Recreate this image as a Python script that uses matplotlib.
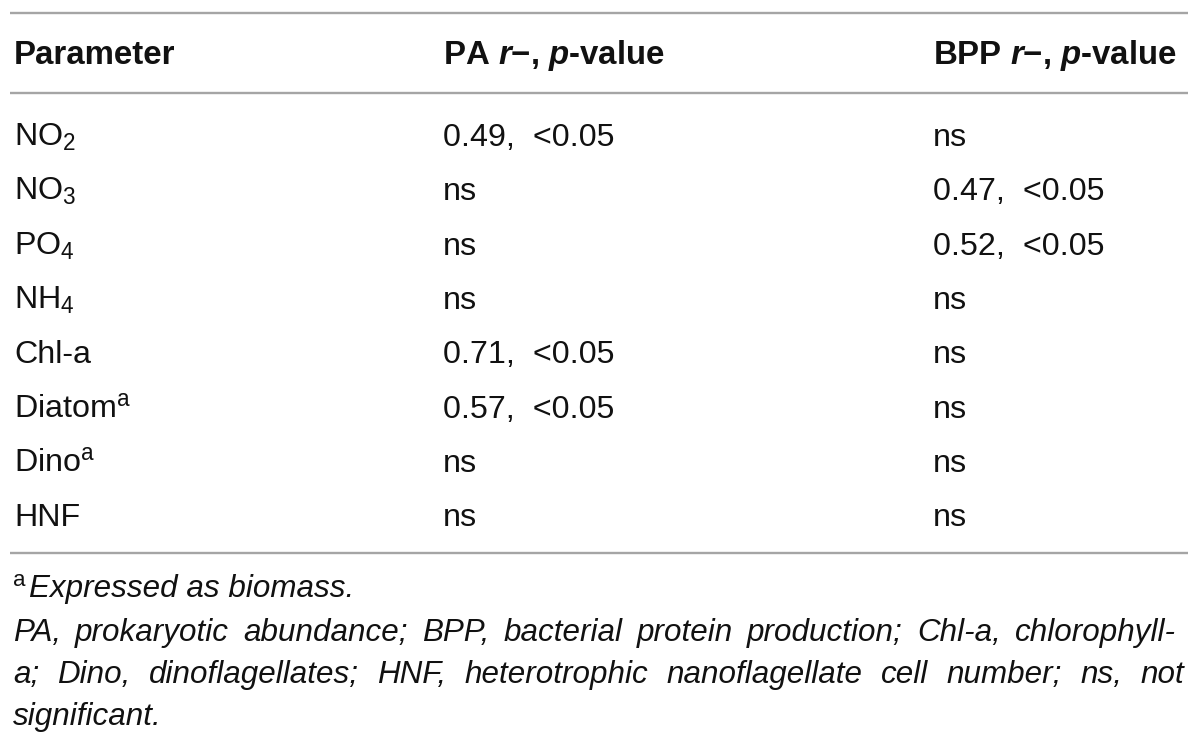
import matplotlib
matplotlib.use("Agg")
import matplotlib.pyplot as plt

plt.rcParams['font.family'] = ['Liberation Sans', 'DejaVu Sans']
plt.rcParams['mathtext.fontset'] = 'custom'
plt.rcParams['mathtext.rm'] = 'Liberation Sans'
plt.rcParams['mathtext.it'] = 'Liberation Sans:italic'
plt.rcParams['mathtext.bf'] = 'Liberation Sans:bold'
plt.rcParams['mathtext.bfit'] = 'Liberation Sans:italic:bold'

# Table content
headers = ["Parameter", "PA $\\mathbfit{r}$\u2212, $\\mathbfit{p}$-value",
           "BPP $\\mathbfit{r}$\u2212, $\\mathbfit{p}$-value"]
parameters = ["NO$_2$", "NO$_3$", "PO$_4$", "NH$_4$", "Chl-a",
              "Diatom$^{\\mathrm{a}}$", "Dino$^{\\mathrm{a}}$", "HNF"]
pa_values = ["0.49,  <0.05", "ns", "ns", "ns", "0.71,  <0.05",
             "0.57,  <0.05", "ns", "ns"]
bpp_values = ["ns", "0.47,  <0.05", "0.52,  <0.05", "ns", "ns",
              "ns", "ns", "ns"]
footnote_a = "Expressed as biomass."
footnote_lines = [
    "PA, prokaryotic abundance; BPP, bacterial protein production; Chl-a, chlorophyll-",
    "a; Dino, dinoflagellates; HNF, heterotrophic nanoflagellate cell number; ns, not",
    "significant.",
]

W, H = 1200, 746
fig = plt.figure(figsize=(W / 100, H / 100), dpi=100)
ax = fig.add_axes([0, 0, 1, 1])
ax.set_xlim(0, W)
ax.set_ylim(H, 0)
ax.axis('off')

txt = '#111111'
line_c = '#a5a5a5'
fs = 23.2
hfs = 23.8
col_x = [14, 443, 933]

for y in [12.7, 93, 553]:
    ax.plot([10, 1188], [y, y], color=line_c, lw=1.7, solid_capstyle='butt')

for x, h in zip(col_x, headers):
    ax.text(x, 64, h, fontsize=hfs, fontweight='bold', color=txt, va='baseline')

# rows
row_y0, row_dy = 146, 54.3
for i, (p, a, b) in enumerate(zip(parameters, pa_values, bpp_values)):
    y = row_y0 + i * row_dy
    ax.text(col_x[0], y, p, fontsize=fs, color=txt, va='baseline')
    ax.text(col_x[1], y, a, fontsize=fs, color=txt, va='baseline')
    ax.text(col_x[2], y, b, fontsize=fs, color=txt, va='baseline')

# footnotes
fn_fs = 22.6
ax.text(13, 586, "a", fontsize=16, color=txt, va='baseline')
ax.text(29, 597, footnote_a, fontsize=fn_fs, style='italic', color=txt, va='baseline')

renderer = fig.canvas.get_renderer()
fn_y = [641, 683, 725]
fn_right = [1176, 1184, None]
for line, y, x_end in zip(footnote_lines, fn_y, fn_right):
    words = line.split(' ')
    ts = [ax.text(0, y, w, fontsize=fn_fs, style='italic', color=txt, va='baseline')
          for w in words]
    widths = [t.get_window_extent(renderer).width for t in ts]
    if x_end is not None and len(words) > 1:
        gap = (x_end - 13 - sum(widths)) / (len(words) - 1)
    else:
        gap = fn_fs * 100 / 72 * 0.278
    x = 13
    for t, w in zip(ts, widths):
        t.set_x(x)
        x += w + gap

fig.savefig("out.png", dpi=100)
